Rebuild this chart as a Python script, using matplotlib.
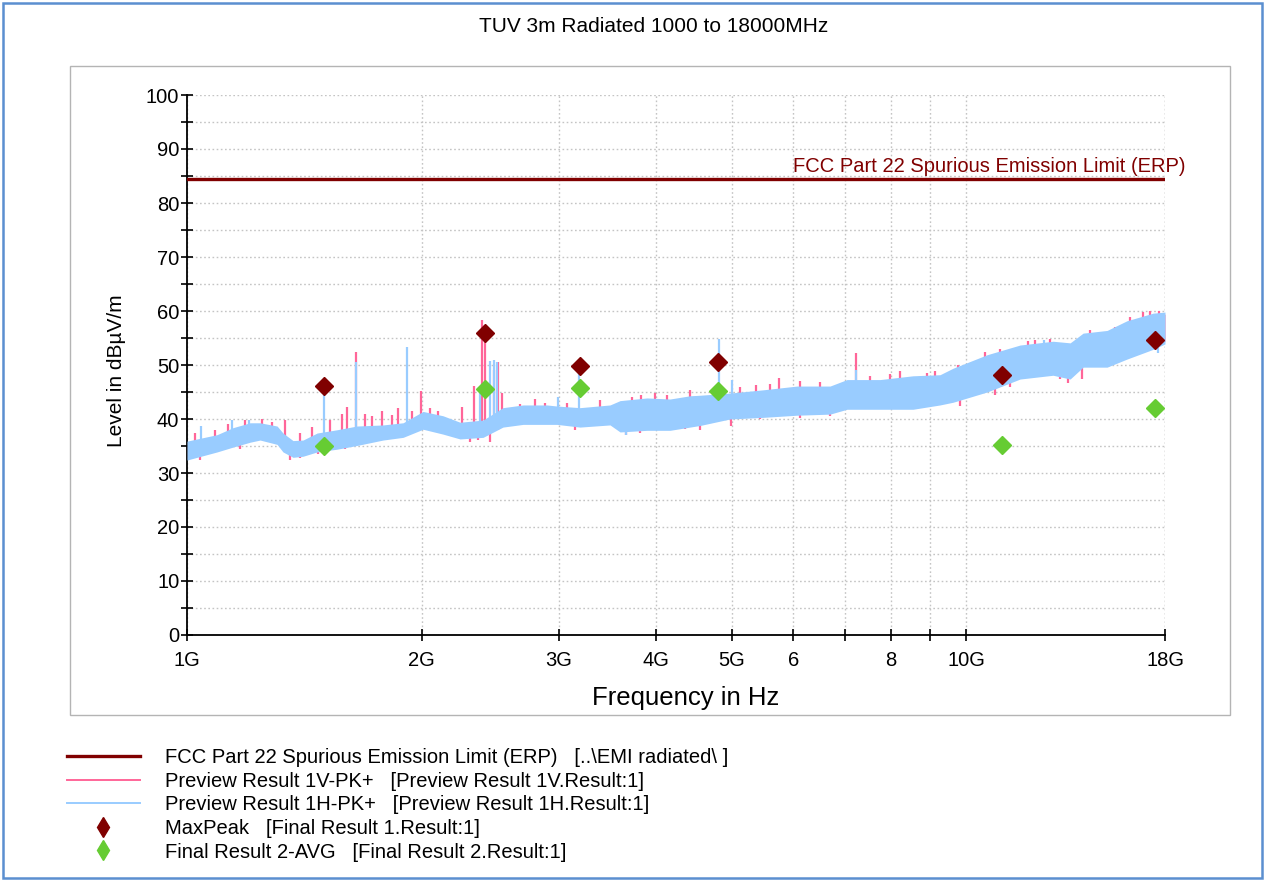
import matplotlib

matplotlib.use("Agg")
import matplotlib.pyplot as plt
import numpy as np
from matplotlib.lines import Line2D
from matplotlib.patches import Rectangle
from matplotlib.ticker import FixedFormatter, FixedLocator, NullLocator
from matplotlib.transforms import blended_transform_factory

plt.rcParams["font.family"] = ["Liberation Sans", "DejaVu Sans"]

DARK_RED = "#800000"
PINK = "#ff6699"
LIGHT_BLUE = "#99ccff"
GREEN = "#66cc33"
GHZ = 1e9

TITLE = "TUV 3m Radiated 1000 to 18000MHz"
LIMIT_LABEL = "FCC Part 22 Spurious Emission Limit (ERP)"
LIMIT_LEVEL = 84.4

# preview scans: envelope of the sweep (GHz, dBuV/m)
band_freq = [1.000, 1.093, 1.146, 1.205, 1.241, 1.305, 1.328, 1.368, 1.409, 1.469,
             1.557, 1.653, 1.785, 1.894, 2.009, 2.131, 2.241, 2.399, 2.544, 2.700,
             2.898, 2.985, 3.194, 3.491, 3.596, 3.894, 4.168, 4.422, 4.555, 4.977,
             5.487, 6.067, 6.689, 7.032, 7.754, 8.547, 9.258, 9.621, 10.64, 11.73,
             12.93, 13.60, 14.13, 15.17, 16.09, 17.38, 18.00]
h_low = [32.4, 33.9, 34.8, 35.7, 36.1, 35.3, 33.9, 32.9, 33.1, 33.9,
         34.4, 35.1, 36.1, 36.6, 38.1, 37.2, 36.3, 36.6, 38.5, 39.0,
         39.0, 39.0, 38.5, 38.9, 37.6, 37.9, 37.9, 38.5, 38.8, 40.0,
         40.3, 40.7, 40.9, 41.8, 41.8, 41.8, 42.6, 43.1, 45.0, 47.4,
         48.1, 47.4, 49.6, 49.6, 51.1, 52.9, 53.9]
h_high = [35.9, 37.1, 38.4, 39.3, 39.3, 38.7, 37.4, 36.0, 36.1, 37.4,
          38.0, 38.7, 38.9, 39.3, 41.4, 40.6, 39.4, 39.8, 42.1, 42.6,
          42.6, 42.4, 42.1, 42.6, 43.4, 43.9, 43.7, 44.3, 44.4, 44.8,
          45.4, 46.1, 46.1, 47.3, 47.3, 48.0, 48.2, 49.4, 51.9, 53.7,
          54.4, 54.1, 55.9, 56.4, 58.2, 59.6, 59.8]
v_low = [32.9, 34.4, 35.3, 36.2, 36.6, 35.8, 34.4, 33.4, 33.6, 34.4,
         34.9, 35.6, 36.6, 37.1, 38.6, 37.7, 36.8, 37.1, 39.0, 39.5,
         39.5, 39.5, 39.0, 39.4, 38.1, 38.4, 38.4, 39.0, 39.3, 40.5,
         40.8, 41.2, 41.4, 42.3, 42.3, 42.3, 43.1, 43.6, 45.5, 47.9,
         48.6, 47.9, 50.1, 50.1, 51.6, 53.4, 54.4]
v_high = [35.4, 36.6, 37.9, 38.8, 38.8, 38.2, 36.9, 35.5, 35.6, 36.9,
          37.5, 38.2, 38.4, 38.8, 40.9, 40.1, 38.9, 39.3, 41.6, 42.1,
          42.1, 41.9, 41.6, 42.1, 42.9, 43.4, 43.2, 43.8, 43.9, 44.3,
          44.9, 45.6, 45.6, 46.8, 46.8, 47.5, 47.7, 48.9, 51.4, 53.2,
          53.9, 53.6, 55.4, 55.9, 57.7, 59.3, 59.4]

# vertical excursions of the V sweep beyond the floor: frequency, start, end
v_spike_freq = [1.024, 1.086, 1.129, 1.187, 1.248, 1.286, 1.336, 1.396, 1.447, 1.526,
                1.581, 1.605, 1.648, 1.692, 1.728, 1.779, 1.833, 1.866, 1.945, 1.997,
                2.050, 2.100, 2.254, 2.335, 2.391, 2.413, 2.477, 2.507, 2.537, 2.676,
                2.797, 2.881, 3.075, 3.390, 3.726, 3.826, 3.988, 4.132, 4.422, 5.127,
                5.375, 5.603, 5.751, 6.119, 6.494, 7.222, 7.527, 7.985, 8.228, 8.909,
                9.123, 9.763, 10.58, 11.05, 12.01, 12.26, 12.82, 14.42, 15.53, 16.23,
                16.87, 17.22, 17.68,
                1.039, 1.170, 1.356, 1.396, 1.473, 1.595, 2.308, 2.360, 2.448, 3.148,
                3.660, 3.815, 4.357, 4.555, 4.991, 5.440, 6.119, 6.689, 9.822, 10.89,
                11.38, 13.20, 13.51, 14.09, 15.76, 17.22]
v_spike_start = [34.5, 35.5, 36.5, 37.5, 38.0, 37.5, 35.0, 35.0, 35.5, 36.5,
                 37.0, 36.0, 37.0, 37.5, 37.5, 37.0, 38.0, 38.0, 39.0, 39.0,
                 40.0, 39.5, 37.5, 38.0, 38.0, 38.0, 38.0, 38.0, 39.0, 41.0,
                 40.0, 41.0, 40.0, 41.0, 40.0, 40.0, 42.5, 40.0, 43.0, 43.5,
                 42.0, 44.0, 42.0, 44.5, 45.0, 44.0, 46.0, 46.0, 44.0, 45.0,
                 47.0, 48.0, 50.5, 51.5, 52.5, 50.0, 53.0, 54.5, 55.0, 56.8,
                 55.0, 58.5, 56.0,
                 34.0, 36.0, 34.0, 34.5, 35.0, 35.5, 37.5, 39.0, 38.0, 39.5,
                 40.0, 39.0, 41.0, 40.0, 41.0, 41.5, 41.8, 42.0, 44.0, 46.0,
                 47.5, 48.5, 50.0, 50.0, 52.0, 54.0]
v_spike_end = [37.5, 38.0, 39.0, 39.8, 40.0, 39.5, 39.8, 37.5, 38.5, 39.8,
               41.0, 42.2, 52.4, 41.0, 40.5, 41.5, 40.8, 42.0, 41.5, 45.1,
               42.0, 41.5, 42.3, 46.1, 58.3, 57.5, 49.0, 50.6, 44.8, 42.8,
               43.7, 43.0, 43.0, 43.5, 44.1, 44.4, 44.8, 44.4, 45.3, 46.0,
               46.3, 46.5, 47.6, 47.0, 46.8, 52.2, 48.0, 48.3, 48.9, 48.6,
               48.8, 50.0, 52.5, 53.0, 54.5, 54.6, 54.8, 56.5, 57.0, 58.8,
               59.9, 60.0, 60.0,
               32.5, 34.5, 32.5, 32.8, 33.5, 34.5, 35.8, 36.2, 35.8, 38.0,
               37.0, 37.5, 38.1, 38.0, 38.7, 40.0, 40.2, 40.5, 42.5, 44.5,
               46.0, 47.5, 46.7, 47.4, 51.0, 53.0]

# same for the H sweep
h_spike_freq = [1.042, 1.142, 1.201, 1.499, 1.648, 1.916, 2.377, 2.448, 2.477, 2.500,
                2.994, 3.186, 4.818, 5.006, 7.222, 12.59, 3.660, 17.63]
h_spike_start = [35.0, 37.0, 38.0, 36.0, 37.0, 38.0, 38.0, 38.0, 38.0, 38.0,
                 41.0, 41.0, 43.0, 43.0, 45.0, 51.0, 40.0, 56.0]
h_spike_end = [38.7, 39.8, 39.8, 45.5, 50.5, 53.3, 45.4, 50.8, 51.0, 50.5,
               44.1, 48.5, 54.8, 47.2, 49.0, 54.6, 37.0, 52.2]

# final measurements
peak_freq = [1.499, 2.413, 3.190, 4.808, 11.12, 17.49]
peak_level = [46.2, 55.9, 49.8, 50.6, 48.1, 54.6]
avg_freq = [1.499, 2.413, 3.190, 4.808, 11.12, 17.49]
avg_level = [35.0, 45.5, 45.7, 45.2, 35.1, 42.1]

x_ticks = [1, 2, 3, 4, 5, 6, 7, 8, 9, 10, 18]
x_tick_labels = ["1G", "2G", "3G", "4G", "5G", "6", "", "8", "", "10G", "18G"]

LEGEND_LABELS = [
    "FCC Part 22 Spurious Emission Limit (ERP)   [..\\EMI radiated\\ ]",
    "Preview Result 1V-PK+   [Preview Result 1V.Result:1]",
    "Preview Result 1H-PK+   [Preview Result 1H.Result:1]",
    "MaxPeak   [Final Result 1.Result:1]",
    "Final Result 2-AVG   [Final Result 2.Result:1]",
]

W, H = 1266, 880
fig = plt.figure(figsize=(W / 100, H / 100), dpi=100)
fig.patch.set_facecolor("white")

# outer frame and chart panel
fig.add_artist(Rectangle((3 / W, 2 / H), 1259 / W, 875 / H, transform=fig.transFigure,
                         fill=False, edgecolor="#5b8fd0", linewidth=1.8))
fig.add_artist(Rectangle((70 / W, 1 - 715 / H), 1160 / W, 649 / H, transform=fig.transFigure,
                         fill=False, edgecolor="#b4b4b4", linewidth=1.0))

ax = fig.add_axes([187 / W, 1 - 635 / H, 978 / W, 540 / H])
ax.set_xscale("log")

bf = np.array(band_freq) * GHZ
ax.fill_between(bf, v_low, v_high, color=PINK, linewidth=0, zorder=2)
ax.vlines(np.array(v_spike_freq) * GHZ, v_spike_start, v_spike_end, color=PINK, linewidth=1.6, zorder=2)
ax.fill_between(bf, h_low, h_high, color=LIGHT_BLUE, linewidth=0, zorder=3)
ax.vlines(np.array(h_spike_freq) * GHZ, h_spike_start, h_spike_end, color=LIGHT_BLUE, linewidth=1.6, zorder=3)

ax.plot([1 * GHZ, 18 * GHZ], [LIMIT_LEVEL, LIMIT_LEVEL], color=DARK_RED, linewidth=2.4, zorder=4)
ax.text(1.021, LIMIT_LEVEL + 0.6, LIMIT_LABEL, color=DARK_RED, fontsize=14.5, ha="right", va="bottom",
        transform=blended_transform_factory(ax.transAxes, ax.transData), clip_on=False)

ax.plot(np.array(peak_freq) * GHZ, peak_level, "D", color=DARK_RED, markersize=9, zorder=6)
ax.plot(np.array(avg_freq) * GHZ, avg_level, "D", color=GREEN, markersize=9, zorder=6)

ax.set_xlim(1 * GHZ, 18 * GHZ)
ax.set_ylim(0, 100)
ax.xaxis.set_major_locator(FixedLocator([t * GHZ for t in x_ticks]))
ax.xaxis.set_major_formatter(FixedFormatter(x_tick_labels))
ax.xaxis.set_minor_locator(NullLocator())
ax.set_yticks(range(0, 101, 10))
ax.set_yticks(range(5, 100, 10), minor=True)

ax.tick_params(axis="both", which="both", direction="inout", length=9, width=1.2, labelsize=14.5)
ax.tick_params(axis="x", pad=7)
ax.tick_params(axis="y", pad=1)
for side in ("top", "right"):
    ax.spines[side].set_visible(False)
for side in ("left", "bottom"):
    ax.spines[side].set_linewidth(1.3)

ax.grid(True, which="both", color="#c4c4c4", linestyle=(0, (1.2, 1.8)), linewidth=1.0, zorder=0)
ax.set_axisbelow(True)
# grid line on the right-hand end of the sweep
ax.axvline(18 * GHZ, color="#c4c4c4", linestyle=(0, (1.2, 1.8)), linewidth=1.0, zorder=0)

fig.text(654 / W, 1 - 27 / H, TITLE, ha="center", va="center", fontsize=15)
fig.text(686 / W, 1 - 698 / H, "Frequency in Hz", ha="center", va="center", fontsize=18.5)
fig.text(117 / W, 1 - 371 / H, "Level in dB\u00b5V/m", ha="center", va="center", rotation=90, fontsize=15)

handles = [
    Line2D([], [], color=DARK_RED, linewidth=2.4),
    Line2D([], [], color=PINK, linewidth=1.4),
    Line2D([], [], color=LIGHT_BLUE, linewidth=1.4),
    Line2D([], [], linestyle="none", marker="d", color=DARK_RED, markersize=10),
    Line2D([], [], linestyle="none", marker="d", color=GREEN, markersize=10),
]
fig.legend(handles, LEGEND_LABELS, loc="upper left", bbox_to_anchor=(67 / W, 1 - 748 / H),
           frameon=False, fontsize=14.5, handlelength=3.6, handletextpad=1.25,
           labelspacing=0.23, borderpad=0, borderaxespad=0)

fig.savefig("out.png", dpi=100, facecolor="white")
